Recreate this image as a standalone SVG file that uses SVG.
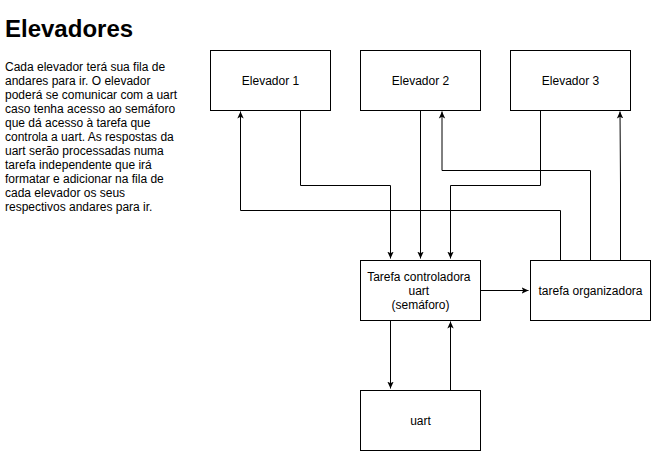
<svg xmlns="http://www.w3.org/2000/svg" width="652" height="451" viewBox="0 0 652 451">
<style>
.box{fill:#fff;stroke:#000;stroke-width:1}
.lbl{font-family:"Liberation Sans",Arial,sans-serif;font-size:12px;fill:#000;text-anchor:middle}
.edge{fill:none;stroke:#000;stroke-width:1}
.body{font-family:"Liberation Sans",Arial,sans-serif;font-size:12px;fill:#000}
.title{font-family:"Liberation Sans",Arial,sans-serif;font-size:24px;font-weight:bold;fill:#000}
</style>
<defs>
<marker id="arr" viewBox="0 0 8 8" refX="7" refY="4" markerWidth="8" markerHeight="8" markerUnits="userSpaceOnUse" orient="auto">
<path d="M0,0.8 L7,4 L0,7.2 L1.8,4 z" fill="#000"/>
</marker>
</defs>
<rect width="652" height="451" fill="#fff"/>
<g id="description">
<text class="title" x="5" y="37">Elevadores</text>
<text class="body" x="5" y="71">
<tspan x="5" dy="0">Cada elevador terá sua fila de</tspan>
<tspan x="5" dy="14">andares para ir. O elevador</tspan>
<tspan x="5" dy="14">poderá se comunicar com a uart</tspan>
<tspan x="5" dy="14">caso tenha acesso ao semáforo</tspan>
<tspan x="5" dy="14">que dá acesso à tarefa que</tspan>
<tspan x="5" dy="14">controla a uart. As respostas da</tspan>
<tspan x="5" dy="14">uart serão processadas numa</tspan>
<tspan x="5" dy="14">tarefa independente que irá</tspan>
<tspan x="5" dy="14">formatar e adicionar na fila de</tspan>
<tspan x="5" dy="14">cada elevador os seus</tspan>
<tspan x="5" dy="14">respectivos andares para ir.</tspan>
</text>
</g>
<g id="connectors">
<path class="edge" marker-end="url(#arr)" d="M300.5,110 V185.5 H390.5 V258.5"/>
<path class="edge" marker-end="url(#arr)" d="M420.5,110 V258.5"/>
<path class="edge" marker-end="url(#arr)" d="M540.5,110 V185.5 H450.5 V258.5"/>
<path class="edge" marker-end="url(#arr)" d="M560.5,260 V210.5 H240.5 V111.5"/>
<path class="edge" marker-end="url(#arr)" d="M590.5,260 V170.5 H442 V111.5"/>
<path class="edge" marker-end="url(#arr)" d="M620.5,260 V185 L620,111.5"/>
<path class="edge" marker-end="url(#arr)" d="M480,290.5 H528.5"/>
<path class="edge" marker-end="url(#arr)" d="M390.5,320 V388.5"/>
<path class="edge" marker-end="url(#arr)" d="M450.5,390 V321.5"/>
</g>
<g id="elevador1">
<rect class="box" x="210.5" y="50.5" width="120" height="60"/>
<text class="lbl" x="270.5" y="84.5">Elevador 1</text>
</g>
<g id="elevador2">
<rect class="box" x="360.5" y="50.5" width="120" height="60"/>
<text class="lbl" x="420.5" y="84.5">Elevador 2</text>
</g>
<g id="elevador3">
<rect class="box" x="510.5" y="50.5" width="120" height="60"/>
<text class="lbl" x="570.5" y="84.5">Elevador 3</text>
</g>
<g id="controladora">
<rect class="box" x="360.5" y="260.5" width="120" height="60"/>
<text class="lbl" x="420.5" y="280.5">
<tspan x="420.5" dy="0">Tarefa controladora</tspan>
<tspan x="420.5" dy="14">uart</tspan>
<tspan x="420.5" dy="14">(semáforo)</tspan>
</text>
</g>
<g id="organizadora">
<rect class="box" x="530.5" y="260.5" width="120" height="60"/>
<text class="lbl" x="590.5" y="294.5">tarefa organizadora</text>
</g>
<g id="uart">
<rect class="box" x="360.5" y="390.5" width="120" height="60"/>
<text class="lbl" x="420.5" y="424.5">uart</text>
</g>
</svg>
